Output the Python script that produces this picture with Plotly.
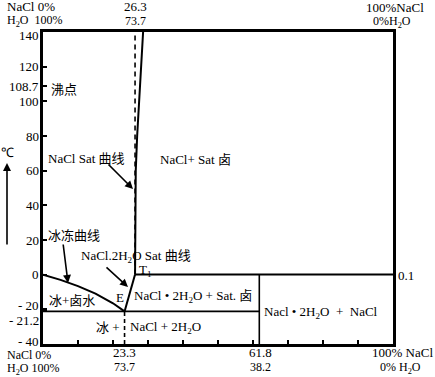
import plotly.graph_objects as go

# ---- data (wt% NaCl, temperature °C) ----
freeze_pct = [0, 5, 10, 15, 20, 23.3]
freeze_temp = [0, -3.0, -6.6, -10.9, -16.5, -21.2]

dihydrate_pct = [23.3, 24.2, 25.0, 25.7, 26.3]
dihydrate_temp = [-21.2, -15, -10, -5, 0.1]

nacl_pct = [26.3, 26.3, 26.35, 26.5, 26.9, 27.5, 28.0, 28.6]
nacl_temp = [0.1, 20, 40, 60, 80, 100, 120, 140]

eutectic_pct, eutectic_temp = 23.3, -21.2
peritectic_pct, peritectic_temp = 26.3, 0.1
dihydrate_comp = 61.8
x_min, x_max = 0, 100
t_min, t_max = -40, 140

y_tick_vals = [140, 120, 108.7, 100, 80, 60, 40, 20, 0, -20, -21.2, -40]
y_tick_text = ["140", "120", "108.7", "100", "80", "60", "40", "20", "0", "- 20", "- 21.2", "- 40"]
x_tick_vals = [10, 20, 30, 40, 50, 60, 70, 80, 90]

SERIF = "Liberation Serif"
CJK = "Liberation Serif, Noto Sans CJK SC"
BLACK = "#000000"
FS = 13
FS2 = 12

L, R, T, B = 43, 42, 32, 33
W, H = 435, 377
PW, PH = W - L - R, H - T - B


def px(x):
    return (x - L) / PW


def py(y):
    return (H - B - y) / PH


fig = go.Figure()


def line(xs, ys, dash="solid", width=2):
    fig.add_trace(go.Scatter(x=xs, y=ys, mode="lines",
                             line=dict(color=BLACK, width=width, dash=dash),
                             hoverinfo="skip", showlegend=False))


line(freeze_pct, freeze_temp, width=2)
line(dihydrate_pct, dihydrate_temp, width=2)
line(nacl_pct, nacl_temp, width=2)
line([peritectic_pct, peritectic_pct], [peritectic_temp, t_max], dash="5px,4px", width=1.6)
line([peritectic_pct, x_max], [peritectic_temp, peritectic_temp], width=1.8)
line([x_min, dihydrate_comp], [eutectic_temp, eutectic_temp], width=1.8)
line([dihydrate_comp, dihydrate_comp], [t_min, peritectic_temp], width=1.6)
line([eutectic_pct, eutectic_pct], [t_min, eutectic_temp], dash="4px,3px", width=1.6)

ann = []


def txt(text, x, y, anchor="left", size=FS, font=CJK):
    ann.append(dict(text=text, x=px(x), y=py(y), xref="paper", yref="paper",
                    xanchor=anchor, yanchor="middle", showarrow=False,
                    font=dict(family=font, size=size, color=BLACK)))


# y-axis labels (positioned at their data values)
label_shift = {140: -3, -20: 4, -21.2: -9, -40: 3}
for v, t in zip(y_tick_vals, y_tick_text):
    ann.append(dict(text=t, x=-0.006, y=v, xref="paper", yref="y",
                    xanchor="right", yanchor="middle", showarrow=False,
                    yshift=label_shift.get(v, 0),
                    font=dict(family=SERIF, size=FS, color=BLACK)))

# top labels
txt("NaCl 0%", 5, 6, font=SERIF)
txt("H<sub>2</sub>O  100%", 5, 21, font=SERIF, size=FS2)
txt("26.3", 135, 6, anchor="center", font=SERIF)
txt("73.7", 135, 21, anchor="center", font=SERIF, size=FS2)
txt("100%NaCl", 426, 7, anchor="right", font=SERIF)
txt("0%H<sub>2</sub>O", 392, 22, anchor="center", font=SERIF, size=FS2)

# bottom labels
txt("NaCl 0%", 5, 355, font=SERIF, size=FS2)
txt("H<sub>2</sub>O 100%", 5, 369, font=SERIF, size=FS2)
txt("23.3", 124, 353, anchor="center", font=SERIF)
txt("73.7", 124, 367, anchor="center", font=SERIF, size=FS2)
txt("61.8", 260, 353, anchor="center", font=SERIF)
txt("38.2", 260, 367, anchor="center", font=SERIF, size=FS2)
txt("100% NaCl", 435, 353, anchor="right", font=SERIF)
txt("0% H<sub>2</sub>O", 400, 368, anchor="center", font=SERIF, size=FS2)

# region / curve labels
txt("沸点", 49, 89)
txt("NaCl Sat 曲线", 46, 158)
txt("NaCl+ Sat 卤", 158, 159)
txt("冰冻曲线", 46, 235)
txt("NaCl.2H<sub>2</sub>O Sat 曲线", 79, 256)
txt("T<sub>1</sub>", 137, 270, font=SERIF)
txt("E", 114, 297, font=SERIF)
txt("冰+卤水", 47, 300)
txt("NaCl • 2H<sub>2</sub>O + Sat. 卤", 132, 296)
txt("冰 +", 94, 327)
txt("NaCl + 2H<sub>2</sub>O", 128, 327)
txt("Nacl • 2H<sub>2</sub>O  +  NaCl", 262, 312)
txt("0.1", 396, 275, font=SERIF)
txt("℃", 7, 152, anchor="center", font=SERIF)


def arrow(x0, y0, x1, y1):
    ann.append(dict(text="", x=px(x1), y=py(y1), xref="paper", yref="paper",
                    ax=x0 - x1, ay=y0 - y1, axref="pixel", ayref="pixel",
                    showarrow=True, arrowhead=2, arrowsize=1, arrowwidth=1.6,
                    arrowcolor=BLACK))


arrow(107, 163, 133, 189)
arrow(63, 243, 68, 283)
arrow(105, 266, 128, 287)
arrow(7, 246, 7, 163)

fig.update_layout(
    width=W, height=H,
    margin=dict(l=L, r=R, t=T, b=B, pad=0),
    paper_bgcolor="white", plot_bgcolor="white",
    showlegend=False,
    annotations=ann,
    xaxis=dict(range=[x_min, x_max], showgrid=False, zeroline=False,
               showline=True, mirror=True, linecolor=BLACK, linewidth=2.5,
               tickmode="array", tickvals=x_tick_vals, ticks="inside",
               ticklen=4, tickwidth=1.5, tickcolor=BLACK, showticklabels=False),
    yaxis=dict(range=[t_min, t_max], showgrid=False, zeroline=False,
               showline=True, mirror=True, linecolor=BLACK, linewidth=2.5,
               tickmode="array", tickvals=y_tick_vals, ticks="inside",
               ticklen=4, tickwidth=1.5, tickcolor=BLACK, showticklabels=False),
)

fig.write_html("out.html")
